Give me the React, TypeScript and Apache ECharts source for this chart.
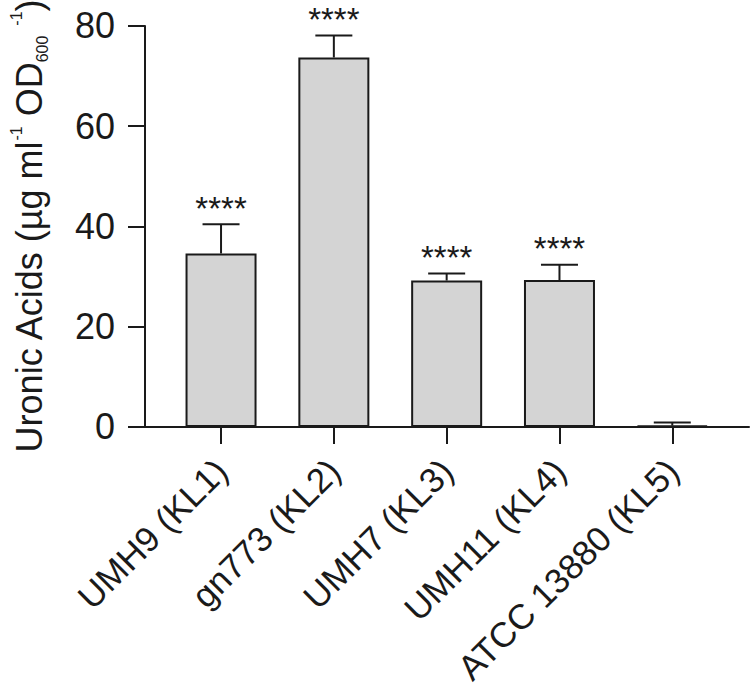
import React, { useEffect, useRef } from "react";
import * as echarts from "echarts";

const categories = ["UMH9 (KL1)", "gn773 (KL2)", "UMH7 (KL3)", "UMH11 (KL4)", "ATCC 13880 (KL5)"];
const means = [34.6, 73.7, 29.2, 29.3, 0.25];
const errors = [5.85, 4.4, 1.4, 3.05, 0.6];
const significance = ["****", "****", "****", "****", ""];
const categoryPositions = [0, 1, 2, 3, 4];
const yMin = 0;
const yMax = 80;
const yInterval = 20;

const FONT = "'Liberation Sans', Arial, Helvetica, sans-serif";
const INK = "#1a1a1a";

export default function App() {
  const ref = useRef<HTMLDivElement>(null);

  useEffect(() => {
    document.body.style.margin = "0";
    if (!ref.current) return;
    const chart = echarts.init(ref.current, null, { renderer: "svg" });

    const option: any = {
      animation: false,
      backgroundColor: "#ffffff",
      grid: { left: 135, right: 1, top: 25, bottom: 254, containLabel: false },
      xAxis: {
        type: "value",
        min: -0.674,
        max: 4.68,
        splitLine: { show: false },
        axisLine: { show: true, onZero: false, lineStyle: { color: INK, width: 2 } },
        axisTick: {
          show: true,
          customValues: categoryPositions,
          length: 17,
          lineStyle: { color: INK, width: 2 },
        },
        axisLabel: {
          show: true,
          customValues: categoryPositions,
          rotate: 45,
          margin: 38,
          fontSize: 35,
          fontFamily: FONT,
          color: INK,
          formatter: (v: number) => categories[Math.round(v)] ?? "",
        },
      },
      yAxis: {
        type: "value",
        min: yMin,
        max: yMax,
        interval: yInterval,
        splitLine: { show: false },
        axisLine: { show: true, onZero: false, lineStyle: { color: INK, width: 2 } },
        axisTick: { show: true, length: 17, lineStyle: { color: INK, width: 2 } },
        axisLabel: { margin: 30, fontSize: 36, fontFamily: FONT, color: INK },
        name: "{m|Uronic Acids (µg ml}{sup|-1}{m| OD}{sub|600}{m| }{sup|-1}{m|)}",
        nameLocation: "middle",
        nameRotate: 90,
        nameGap: 95,
        nameTextStyle: {
          color: INK,
          fontFamily: FONT,
          fontSize: 36,
          rich: {
            m: { fontSize: 36, lineHeight: 42, fontFamily: FONT, color: INK },
            sup: { fontSize: 16, lineHeight: 28, verticalAlign: "top", fontFamily: FONT, color: INK },
            sub: { fontSize: 16, lineHeight: 10, verticalAlign: "bottom", fontFamily: FONT, color: INK },
          },
        },
      },
      series: [
        {
          type: "bar",
          data: means.map((m, i) => [categoryPositions[i], m]),
          barWidth: 71,
          itemStyle: { color: "#d4d4d4", borderColor: INK, borderWidth: 2 },
          z: 2,
        },
        {
          type: "custom",
          z: 3,
          data: means.map((m, i) => [categoryPositions[i], m, errors[i]]),
          encode: { x: 0, y: 1 },
          renderItem: (params: any, api: any) => {
            const x = api.value(0);
            const m = api.value(1);
            const e = api.value(2);
            const top = api.coord([x, m + e]);
            const mid = api.coord([x, m]);
            const half = 18.5;
            const children: any[] = [
              {
                type: "line",
                shape: { x1: mid[0], y1: mid[1], x2: top[0], y2: top[1] },
                style: { stroke: INK, lineWidth: 2 },
              },
              {
                type: "line",
                shape: { x1: top[0] - half, y1: top[1], x2: top[0] + half, y2: top[1] },
                style: { stroke: INK, lineWidth: 2 },
              },
            ];
            const sig = significance[params.dataIndex];
            if (sig) {
              children.push({
                type: "text",
                x: top[0],
                y: top[1] - 16,
                style: {
                  text: sig,
                  align: "center",
                  verticalAlign: "middle",
                  fontSize: 33,
                  fontFamily: FONT,
                  fill: INK,
                },
              });
            }
            return { type: "group", children };
          },
        },
      ],
    };

    chart.setOption(option);
    return () => chart.dispose();
  }, []);

  return <div ref={ref} style={{ width: 750, height: 688 }} />;
}
